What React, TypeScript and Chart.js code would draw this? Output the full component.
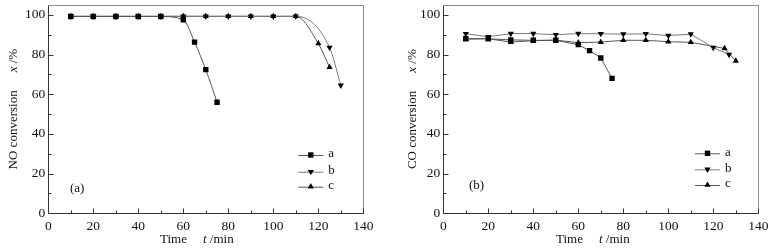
import React, { useEffect, useRef } from 'react';
import { Chart, registerables } from 'chart.js';
import { drawPoint } from 'chart.js/helpers';

Chart.register(...registerables);

const FONT = '"Liberation Serif", "Times New Roman", Times, serif';
const TICK_SIZE = 13.5;
const TEXT_SIZE = 13;

// ---- axis tick labels ----
const xTickLabels = [0, 20, 40, 60, 80, 100, 120, 140];
const yTickLabels = [0, 20, 40, 60, 80, 100];

// ---- panel (a): NO conversion ----
const noTimeA = [10, 20, 30, 40, 50, 60, 65, 70, 75];
const noConvA = [99.2, 99.2, 99.2, 99.2, 99.2, 97.5, 86.3, 72.4, 56.0];
const noTimeB = [10, 20, 30, 40, 50, 60, 70, 80, 90, 100, 110, 125, 130];
const noConvB = [99.3, 99.3, 99.3, 99.3, 99.3, 99.3, 99.3, 99.3, 99.3, 99.3, 99.3, 83.6, 64.5];
const noTimeC = [10, 20, 30, 40, 50, 60, 70, 80, 90, 100, 110, 120, 125];
const noConvC = [99.3, 99.3, 99.3, 99.3, 99.3, 99.3, 99.3, 99.3, 99.3, 99.3, 99.3, 85.6, 73.6];

// ---- panel (b): CO conversion ----
const coTimeA = [10, 20, 30, 40, 50, 60, 65, 70, 75];
const coConvA = [88.0, 88.0, 87.4, 87.2, 87.2, 85.0, 82.0, 78.3, 68.0];
const coTimeB = [10, 20, 30, 40, 50, 60, 70, 80, 90, 100, 110, 120, 127];
const coConvB = [90.5, 89.0, 90.6, 90.6, 90.0, 90.6, 90.5, 90.3, 90.5, 89.6, 90.3, 83.5, 80.0];
const coTimeC = [10, 20, 30, 40, 50, 60, 70, 80, 90, 100, 110, 125, 130];
const coConvC = [87.8, 88.0, 86.3, 87.0, 87.3, 86.0, 86.3, 87.2, 87.2, 86.5, 86.2, 83.1, 76.8];

const seriesLabels = ['a', 'b', 'c'];

const pts = (t: number[], v: number[]) => t.map((x, i) => ({ x, y: v[i] }));

type Part = { t?: string; italic?: boolean; gap?: number };

function drawParts(ctx: CanvasRenderingContext2D, parts: Part[], size: number) {
  const widths = parts.map((p) => {
    if (p.gap) return p.gap;
    ctx.font = `${p.italic ? 'italic ' : ''}${size}px ${FONT}`;
    return ctx.measureText(p.t || '').width;
  });
  const total = widths.reduce((a, b) => a + b, 0);
  let pos = -total / 2;
  parts.forEach((p, i) => {
    if (!p.gap) {
      ctx.font = `${p.italic ? 'italic ' : ''}${size}px ${FONT}`;
      ctx.fillText(p.t || '', pos, 0);
    }
    pos += widths[i];
  });
}

const decorPlugin = {
  id: 'decor',
  beforeDatasetsDraw(chart: any) {
    const { ctx, chartArea: a, scales } = chart;
    const xs = scales.x;
    const ys = scales.y;
    const L = Math.round(a.left) + 0.5;
    const R = Math.round(a.right) + 0.5;
    const T = Math.round(a.top) + 0.5;
    const B = Math.round(a.bottom) + 0.5;
    ctx.save();
    ctx.lineWidth = 1;
    ctx.strokeStyle = '#8c8c8c';
    ctx.beginPath();
    ctx.moveTo(L, T);
    ctx.lineTo(R, T);
    ctx.lineTo(R, B);
    ctx.stroke();
    ctx.strokeStyle = '#333';
    ctx.beginPath();
    ctx.moveTo(L, T);
    ctx.lineTo(L, B);
    ctx.lineTo(R, B);
    ctx.stroke();
    ctx.beginPath();
    for (let v = 0; v <= 140; v += 10) {
      const px = Math.round(xs.getPixelForValue(v)) + 0.5;
      const len = v % 20 === 0 ? 5 : 3;
      ctx.moveTo(px, B);
      ctx.lineTo(px, B - len);
    }
    for (let v = 0; v <= 100; v += 10) {
      const py = Math.round(ys.getPixelForValue(v)) + 0.5;
      const len = v % 20 === 0 ? 5 : 3;
      ctx.moveTo(L, py);
      ctx.lineTo(L + len, py);
    }
    ctx.stroke();
    ctx.restore();
  },
  afterDraw(chart: any) {
    const { ctx, chartArea: a } = chart;
    const o = chart.options.plugins.decor;
    ctx.save();
    ctx.fillStyle = '#111';
    ctx.textBaseline = 'middle';
    ctx.textAlign = 'left';
    // x title
    ctx.save();
    ctx.translate((a.left + a.right) / 2 + o.xTitleShift, o.xTitleY);
    drawParts(ctx, o.xTitle, TEXT_SIZE);
    ctx.restore();
    // y title
    ctx.save();
    ctx.translate(o.yTitleX, (a.top + a.bottom) / 2);
    ctx.rotate(-Math.PI / 2);
    drawParts(ctx, o.yTitle, TEXT_SIZE);
    ctx.restore();
    // panel tag
    ctx.font = `${TEXT_SIZE}px ${FONT}`;
    ctx.fillText(o.tag, o.tagX, o.tagY);
    // legend
    chart.data.datasets.forEach((ds: any, i: number) => {
      const y = o.legY[i];
      ctx.strokeStyle = ds.borderColor;
      ctx.lineWidth = 1;
      ctx.beginPath();
      ctx.moveTo(o.legX, y + 0.5);
      ctx.lineTo(o.legX + 25, y + 0.5);
      ctx.stroke();
      ctx.fillStyle = '#000';
      ctx.strokeStyle = '#000';
      drawPoint(ctx, { pointStyle: ds.pointStyle, rotation: ds.pointRotation || 0, radius: ds.pointRadius, borderWidth: 0 } as any, o.legX + 12.5, y);
      ctx.fillStyle = '#111';
      ctx.font = `${TEXT_SIZE}px ${FONT}`;
      ctx.fillText(ds.label, o.legX + 30, y - 1);
    });
    ctx.restore();
  },
};

function makeDatasets(
  tA: number[], vA: number[], tB: number[], vB: number[], tC: number[], vC: number[], smooth: boolean
) {
  const common = {
    borderWidth: 1,
    pointBackgroundColor: '#000',
    pointBorderColor: '#000',
    pointBorderWidth: 0,
    pointHoverRadius: 0,
    cubicInterpolationMode: smooth ? ('monotone' as const) : ('default' as const),
    tension: 0,
    fill: false,
    showLine: true,
  };
  return [
    { ...common, label: seriesLabels[0], data: pts(tA, vA), borderColor: '#555', pointStyle: 'rect', pointRadius: 3.8 },
    { ...common, label: seriesLabels[1], data: pts(tB, vB), borderColor: '#7a7a7a', pointStyle: 'triangle', pointRotation: 180, pointRadius: 3.6 },
    { ...common, label: seriesLabels[2], data: pts(tC, vC), borderColor: '#555', pointStyle: 'triangle', pointRadius: 3.6 },
  ];
}

type Panel = {
  datasets: any[];
  padLeft: number;
  padRight: number;
  decor: any;
};

function PanelChart({ panel }: { panel: Panel }) {
  const ref = useRef<HTMLCanvasElement | null>(null);
  useEffect(() => {
    if (!ref.current) return;
    const tickFont = { family: FONT, size: TICK_SIZE };
    const chart = new Chart(ref.current, {
      type: 'line',
      data: { datasets: panel.datasets },
      plugins: [decorPlugin],
      options: {
        animation: false,
        responsive: false,
        devicePixelRatio: 1,
        events: [],
        layout: { padding: { left: panel.padLeft, right: panel.padRight, top: 5, bottom: 5.7 } },
        plugins: {
          legend: { display: false },
          tooltip: { enabled: false },
          decor: panel.decor,
        } as any,
        scales: {
          x: {
            type: 'linear',
            min: 0,
            max: 140,
            grid: { display: false, drawTicks: false },
            border: { display: false },
            ticks: {
              stepSize: 10,
              includeBounds: false,
              autoSkip: false,
              maxRotation: 0,
              padding: 5,
              color: '#111',
              font: tickFont,
              callback: (v: any) => (xTickLabels.includes(Number(v)) ? String(v) : ''),
            },
            afterFit: (s: any) => {
              s.height = 30;
              s.paddingLeft = 0;
              s.paddingRight = 0;
            },
          },
          y: {
            type: 'linear',
            min: 0,
            max: 105,
            grid: { display: false, drawTicks: false },
            border: { display: false },
            ticks: {
              stepSize: 10,
              includeBounds: false,
              autoSkip: false,
              padding: 3,
              color: '#111',
              font: tickFont,
              callback: (v: any) => (yTickLabels.includes(Number(v)) ? String(v) : ''),
            },
            afterFit: (s: any) => {
              s.width = 40;
              s.paddingTop = 0;
              s.paddingBottom = 0;
            },
          },
        },
      } as any,
    });
    return () => chart.destroy();
  }, [panel]);
  return <canvas ref={ref} width={387} height={249} style={{ display: 'block', width: 387, height: 249 }} />;
}

const panelA: Panel = {
  datasets: makeDatasets(noTimeA, noConvA, noTimeB, noConvB, noTimeC, noConvC, true),
  padLeft: 8.3,
  padRight: 23.7,
  decor: {
    xTitle: [{ t: 'Time' }, { gap: 16 }, { t: 't', italic: true }, { t: ' /min' }],
    xTitleShift: -9,
    xTitleY: 240,
    yTitle: [{ t: 'NO conversion' }, { gap: 18 }, { t: 'x', italic: true }, { t: ' /%' }],
    yTitleX: 13.5,
    tag: '(a)',
    tagX: 70,
    tagY: 189,
    legX: 298.3,
    legY: [155, 171.7, 186.7],
  },
};

const panelB: Panel = {
  datasets: makeDatasets(coTimeA, coConvA, coTimeB, coConvB, coTimeC, coConvC, false),
  padLeft: 16.3,
  padRight: 15.7,
  decor: {
    xTitle: [{ t: 'Time' }, { gap: 16 }, { t: 't', italic: true }, { t: ' /min' }],
    xTitleShift: -8,
    xTitleY: 240,
    yTitle: [{ t: 'CO conversion' }, { gap: 18 }, { t: 'x', italic: true }, { t: ' /%' }],
    yTitleX: 25.3,
    tag: '(b)',
    tagX: 82,
    tagY: 186,
    legX: 308,
    legY: [153.3, 169.3, 185],
  },
};

export default function App() {
  return (
    <div style={{ position: 'absolute', left: 0, top: 0, width: 774, height: 249, display: 'flex', background: '#fff' }}>
      <PanelChart panel={panelA} />
      <PanelChart panel={panelB} />
    </div>
  );
}
